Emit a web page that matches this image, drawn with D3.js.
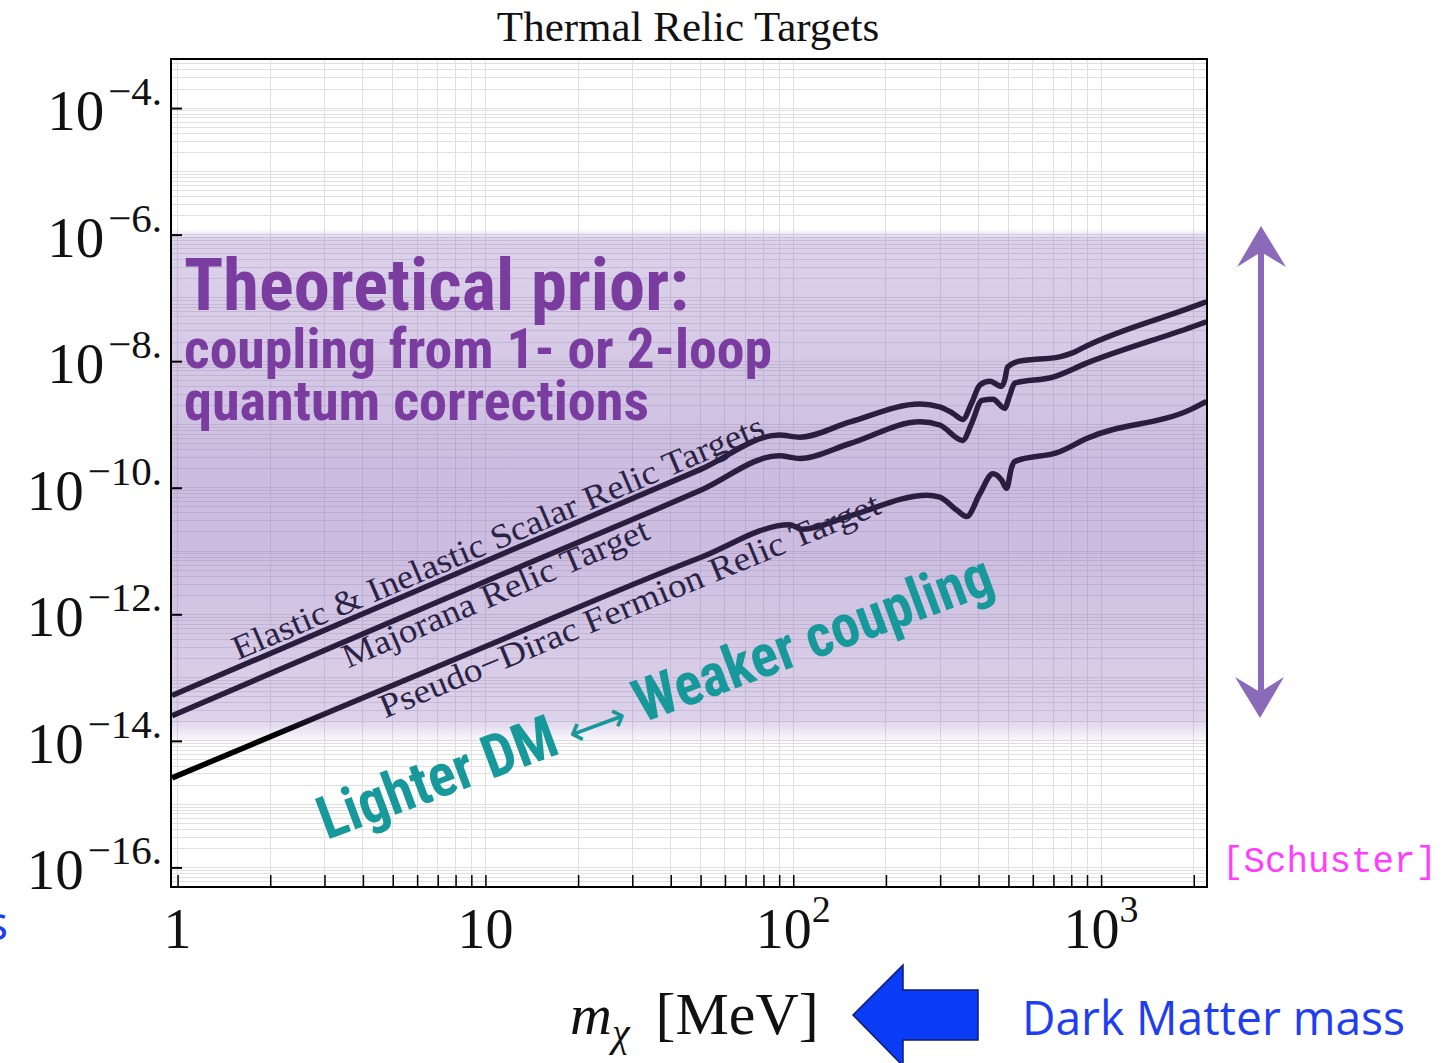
<!DOCTYPE html>
<html>
<head>
<meta charset="utf-8">
<script src="https://cdn.jsdelivr.net/npm/d3@7"></script>
<style>
body { margin: 0; background: #fff; }
</style>
</head>
<body>
<svg width="1454" height="1063"></svg>
<script>
// data: [mass in MeV, coupling y]
var elasticScalar = [[0.96,5.2e-14],[10,6.9e-12],[50,1.95e-10],[90,6.8e-10],[105,6.3e-10],[153,1.1e-9],[258,2.1e-9],[299,1.9e-9],[330,1.5e-9],[355,1.2e-9],[380,2.2e-9],[404,4.2e-9],[435,4.8e-9],[475,4.0e-9],[486,5.0e-9],[497,8.1e-9],[543,1.0e-8],[733,1.17e-8],[807,1.35e-8],[897,1.74e-8],[1982,7.2e-8],[2198,8.7e-8]];
var majorana = [[0.96,2.5e-14],[10,3.3e-12],[50,9.1e-11],[90,3.2e-10],[105,2.9e-10],[153,5.0e-10],[258,1.1e-9],[299,9.8e-10],[355,5.6e-10],[380,1.05e-9],[410,2.4e-9],[445,2.5e-9],[486,1.8e-9],[505,2.9e-9],[524,4.5e-9],[697,5.6e-9],[897,9.3e-9],[1982,3.5e-8],[2198,4.2e-8]];
var pseudoDirac = [[0.96,2.6e-15],[10,3.1e-13],[50,7.9e-12],[97.5,2.6e-11],[107,2.2e-11],[153,3.6e-11],[272,7.6e-11],[299,7.1e-11],[340,4.4e-11],[366,3.5e-11],[404,8.1e-11],[445,1.66e-10],[475,1.32e-10],[493,9.8e-11],[512,2.1e-10],[524,2.6e-10],[733,3.7e-10],[897,6.0e-10],[1982,1.78e-9],[2198,2.3e-9]];

var curveLabels = ["Elastic & Inelastic Scalar Relic Targets", "Majorana Relic Target", "Pseudo\u2212Dirac Fermion Relic Target"];
var labelStart = [[1.57,1.87e-13],[3.58,1.39e-13],[4.72,2.25e-14]];
var labelEnd = [[82,6.8e-10],[34.7,1.59e-11],[195,4.0e-11]];

var xTickValues = [1, 10, 100, 1000];
var xTickBase = ["1", "10", "10", "10"];
var xTickExp = ["", "", "2", "3"];
var yTickValues = [1e-4, 1e-6, 1e-8, 1e-10, 1e-12, 1e-14, 1e-16];
var yTickExp = ["\u22124.", "\u22126.", "\u22128.", "\u221210.", "\u221212.", "\u221214.", "\u221216."];

var bandRange = [1e-14, 1e-6];
var teal = {text1: "Lighter DM ", arrow: "\u27F7", text2: " Weaker coupling", from: [3.05, 2.7e-16], to: [460, 2.3e-12]};

// layout
var plot = {left: 171, top: 59, right: 1207, bottom: 887};
var condensed = "'Liberation Sans Narrow','Roboto Condensed','Liberation Sans',Roboto,sans-serif";
var serif = "'Liberation Serif','Times New Roman',serif";

var x = d3.scaleLog().domain([0.952, 2208]).range([plot.left, plot.right]);
var y = d3.scaleLog().domain([4.9e-17, 5.96e-4]).range([plot.bottom, plot.top]);

var svg = d3.select('svg');
svg.append('rect').attr('width', 1454).attr('height', 1063).attr('fill', '#fff');

var defs = svg.append('defs');
defs.append('clipPath').attr('id', 'clip')
    .append('rect').attr('x', plot.left).attr('y', plot.top)
    .attr('width', plot.right - plot.left).attr('height', plot.bottom - plot.top);

var bandGrad = defs.append('linearGradient').attr('id', 'bandGrad')
    .attr('x1', 0).attr('y1', 0).attr('x2', 0).attr('y2', 1);
[[0, 0], [0.02, 0.30], [0.25, 0.36], [0.45, 0.44], [0.62, 0.44], [0.8, 0.36], [0.95, 0.30], [1, 0]].forEach(function(s){
    bandGrad.append('stop').attr('offset', s[0]).attr('stop-color', '#8c69b9').attr('stop-opacity', s[1]);
});

var lineGrad = defs.append('linearGradient').attr('id', 'lineGrad')
    .attr('gradientUnits', 'userSpaceOnUse')
    .attr('x1', 0).attr('x2', 0)
    .attr('y1', y(bandRange[0]) - 28).attr('y2', y(bandRange[0]) - 8);
lineGrad.append('stop').attr('offset', 0).attr('stop-color', '#2a1e3e');
lineGrad.append('stop').attr('offset', 1).attr('stop-color', '#000');

//grid
var grid = svg.append('g').attr('clip-path', 'url(#clip)')
    .attr('stroke', '#e0e0e0').attr('stroke-width', 1).attr('shape-rendering', 'crispEdges');
grid.selectAll('.gx').data(x.ticks()).enter().append('line')
    .attr('x1', d=>x(d)).attr('x2', d=>x(d)).attr('y1', plot.top).attr('y2', plot.bottom);
grid.selectAll('.gy').data(y.ticks(20)).enter().append('line')
    .attr('x1', plot.left).attr('x2', plot.right).attr('y1', d=>y(d)).attr('y2', d=>y(d));

//band
svg.append('rect')
    .attr('x', plot.left).attr('width', plot.right - plot.left)
    .attr('y', y(bandRange[1]) - 6)
    .attr('height', y(bandRange[0]) - y(bandRange[1]) + 10)
    .attr('fill', 'url(#bandGrad)');

//curves
var line = d3.line().x(d=>x(d[0])).y(d=>y(d[1])).curve(d3.curveMonotoneX);
svg.append('g').attr('clip-path', 'url(#clip)')
    .selectAll('path').data([elasticScalar, majorana, pseudoDirac]).enter()
    .append('path')
    .attr('d', line)
    .attr('fill', 'none')
    .attr('stroke', 'url(#lineGrad)')
    .attr('stroke-width', 5.5);

//curve labels
curveLabels.forEach(function(t, i){
    var x1 = x(labelStart[i][0]), y1 = y(labelStart[i][1]);
    var x2 = x(labelEnd[i][0]), y2 = y(labelEnd[i][1]);
    var ang = Math.atan2(y2 - y1, x2 - x1) * 180 / Math.PI;
    svg.append('text')
        .attr('transform', 'translate(' + x1 + ',' + y1 + ') rotate(' + ang + ')')
        .attr('font-family', serif).attr('font-size', 34)
        .attr('fill', '#2a2346')
        .attr('textLength', Math.hypot(x2 - x1, y2 - y1))
        .attr('lengthAdjust', 'spacingAndGlyphs')
        .text(t);
});

//frame
svg.append('rect')
    .attr('x', plot.left).attr('y', plot.top)
    .attr('width', plot.right - plot.left).attr('height', plot.bottom - plot.top)
    .attr('fill', 'none').attr('stroke', '#000').attr('stroke-width', 2);

//axes
var yAxisGroup = svg.append('g').attr('transform', 'translate(' + plot.left + ',0)');
yAxisGroup.call(d3.axisLeft(y).tickValues(yTickValues).tickSize(-11).tickFormat(''));
yAxisGroup.select('.domain').remove();
yAxisGroup.selectAll('line').attr('stroke-width', 2);

var xAxisGroup = svg.append('g').attr('transform', 'translate(0,' + plot.bottom + ')');
xAxisGroup.call(d3.axisBottom(x).tickValues(x.ticks()).tickSize(-12).tickFormat(''));
xAxisGroup.select('.domain').remove();
xAxisGroup.selectAll('line').attr('stroke-width', 1.5);

var yLab = svg.selectAll('.ylab').data(yTickValues).enter().append('text')
    .attr('x', 162).attr('y', d=>y(d) + 22)
    .attr('text-anchor', 'end').attr('font-family', serif).attr('fill', '#111');
yLab.append('tspan').attr('font-size', 57).text('10');
yLab.append('tspan').attr('font-size', 41).attr('dx', 4).attr('dy', -25).text((d, i)=>yTickExp[i]);

var xLab = svg.selectAll('.xlab').data(xTickValues).enter().append('text')
    .attr('x', d=>x(d)).attr('y', 948)
    .attr('text-anchor', 'middle').attr('font-family', serif).attr('fill', '#111');
xLab.append('tspan').attr('font-size', 56).text((d, i)=>xTickBase[i]);
xLab.append('tspan').attr('font-size', 38).attr('dy', -26).text((d, i)=>xTickExp[i]);

//title
svg.append('text').attr('x', 688).attr('y', 41)
    .attr('text-anchor', 'middle').attr('font-family', serif).attr('font-size', 43)
    .attr('fill', '#111').text('Thermal Relic Targets');

//x label
var xTitle = svg.append('text').attr('x', 570).attr('y', 1034)
    .attr('font-family', serif).attr('fill', '#111');
xTitle.append('tspan').attr('font-size', 58).attr('font-style', 'italic').text('m');
xTitle.append('tspan').attr('font-size', 40).attr('font-style', 'italic').attr('dy', 12).text('\u03C7');
xTitle.append('tspan').attr('font-size', 60).attr('dy', -12).attr('dx', 26).text('[MeV]');

//theoretical prior
var prior = [["Theoretical prior:", 72, 310, 505], ["coupling from 1- or 2-loop", 56, 368, 588], ["quantum corrections", 56, 420, 465]];
prior.forEach(function(p){
    svg.append('text').attr('x', 184).attr('y', p[2])
        .attr('font-family', condensed).attr('font-weight', 700)
        .attr('font-size', p[1]).attr('fill', '#7a3d9f')
        .attr('textLength', p[3]).attr('lengthAdjust', 'spacingAndGlyphs')
        .text(p[0]);
});

//lighter DM <-> weaker coupling
var tx1 = x(teal.from[0]), ty1 = y(teal.from[1]), tx2 = x(teal.to[0]), ty2 = y(teal.to[1]);
var tAng = Math.atan2(ty2 - ty1, tx2 - tx1) * 180 / Math.PI;
var tealText = svg.append('text')
    .attr('transform', 'translate(' + tx1 + ',' + ty1 + ') rotate(' + tAng + ')')
    .attr('font-family', condensed).attr('font-size', 60).attr('font-weight', 700)
    .attr('fill', '#17989a')
    .attr('textLength', Math.hypot(tx2 - tx1, ty2 - ty1))
    .attr('lengthAdjust', 'spacingAndGlyphs');
tealText.append('tspan').text(teal.text1);
tealText.append('tspan').attr('font-weight', 400).attr('font-family', "'DejaVu Sans',sans-serif").attr('font-size', 44).text(teal.arrow);
tealText.append('tspan').text(teal.text2);

//purple double arrow
var arrowColor = '#8b6aba';
svg.append('line').attr('x1', 1261).attr('x2', 1261).attr('y1', 245).attr('y2', 700)
    .attr('stroke', arrowColor).attr('stroke-width', 6);
svg.append('path').attr('d', 'M1261,226 L1286,267 L1261,252 L1237,267 Z').attr('fill', arrowColor);
svg.append('path').attr('d', 'M1260,718 L1284,677 L1260,692 L1235,677 Z').attr('fill', arrowColor);

//blue arrow + caption
svg.append('path')
    .attr('d', 'M853,1015 L903,965 L903,990 L978,990 L978,1040 L903,1040 L903,1066 Z')
    .attr('fill', '#0a3cf6').attr('stroke', '#101a70').attr('stroke-width', 1.5);
svg.append('text').attr('x', 1022).attr('y', 1035)
    .attr('font-family', "'Open Sans','Liberation Sans',sans-serif").attr('font-size', 48)
    .attr('fill', '#1f3ef0').attr('textLength', 383).attr('lengthAdjust', 'spacingAndGlyphs')
    .text('Dark Matter mass');
svg.append('text').attr('x', 8).attr('y', 940).attr('text-anchor', 'end')
    .attr('font-family', "'Open Sans','Liberation Sans',sans-serif").attr('font-size', 48)
    .attr('fill', '#1f3ef0').text('s');

svg.append('text').attr('x', 1222).attr('y', 872)
    .attr('font-family', "'Liberation Mono','Courier New',monospace").attr('font-size', 36)
    .attr('fill', '#ff3cff').attr('textLength', 215).attr('lengthAdjust', 'spacingAndGlyphs')
    .text('[Schuster]');
</script>
</body>
</html>
